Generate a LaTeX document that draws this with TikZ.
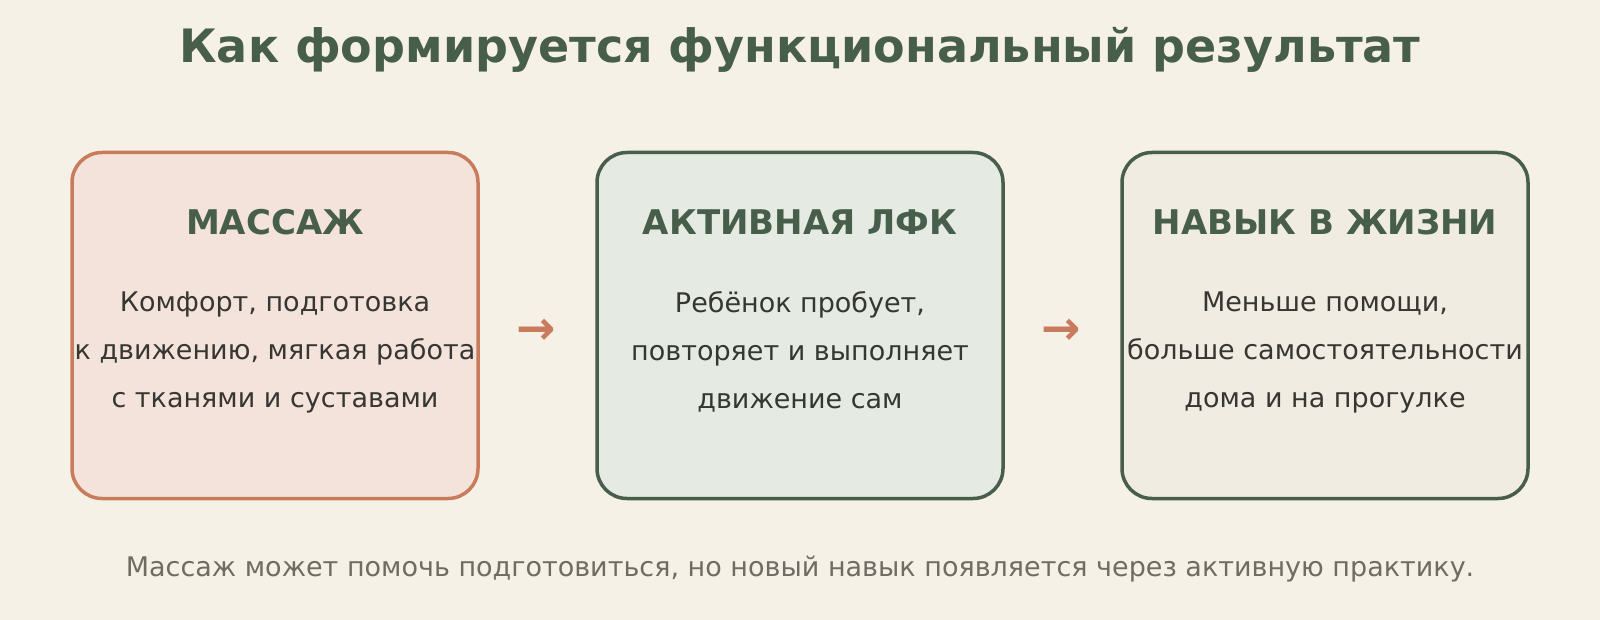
\documentclass[tikz,border=0pt]{standalone}
\usepackage{fontspec}
\setmainfont{DejaVu Sans}
\usetikzlibrary{positioning}
\definecolor{bgcream}{HTML}{F6F1E7}
\definecolor{sage}{HTML}{475E4B}
\definecolor{terra}{HTML}{C97B5E}
\definecolor{pinkfill}{HTML}{F4E3DA}
\definecolor{greenfill}{HTML}{E5EAE3}
\definecolor{beigefill}{HTML}{F1ECE1}
\definecolor{bodytext}{HTML}{363633}
\definecolor{notegray}{HTML}{6E6C63}
\tikzset{
  stagebox/.style={draw=sage, line width=3.5pt, rounded corners=30pt,
    minimum width=406pt, minimum height=346pt},
  stagehead/.style={text=sage, font=\bfseries\fontsize{34}{40}\selectfont, anchor=base},
  stagebody/.style={text=bodytext, font=\fontsize{27}{48}\selectfont, align=center},
  flowarrow/.style={text=terra, font=\bfseries\fontsize{47}{52}\selectfont}
}
\begin{document}
\begin{tikzpicture}[x=1pt,y=-1pt]
\fill[bgcream] (0,0) rectangle (1600,620);
\useasboundingbox (0,0) rectangle (1600,620);
% title
\node[text=sage, font=\bfseries\fontsize{46}{54}\selectfont, anchor=base] (title) at (800,63)
  {Как формируется функциональный результат};
% three stages
\node[stagebox, draw=terra, fill=pinkfill] (massage) at (275,325.5) {};
\node[stagebox, fill=greenfill] (lfk) at (800,325.5) {};
\node[stagebox, fill=beigefill] (skill) at (1325,325.5) {};
\node[stagehead] (massagehead) at (275,235) {МАССАЖ};
\node[stagehead] (lfkhead) at (800,235) {АКТИВНАЯ ЛФК};
\node[stagehead] (skillhead) at (1325,235) {НАВЫК В ЖИЗНИ};
\node[stagebody] (massagetext) at (275,352)
  {Комфорт, подготовка\\к движению, мягкая работа\\с тканями и суставами};
\node[stagebody] (lfktext) at (800,352)
  {Ребёнок пробует,\\повторяет и выполняет\\движение сам};
\node[stagebody] (skilltext) at (1325,352)
  {Меньше помощи,\\больше самостоятельности\\дома и на прогулке};
% arrows between stages
\node[flowarrow] (arrowone) at (536,332) {→};
\node[flowarrow] (arrowtwo) at (1061,332) {→};
% note
\node[text=notegray, font=\fontsize{27}{32}\selectfont, anchor=base] (note) at (800,576)
  {Массаж может помочь подготовиться, но новый навык появляется через активную практику.};
\end{tikzpicture}
\end{document}
